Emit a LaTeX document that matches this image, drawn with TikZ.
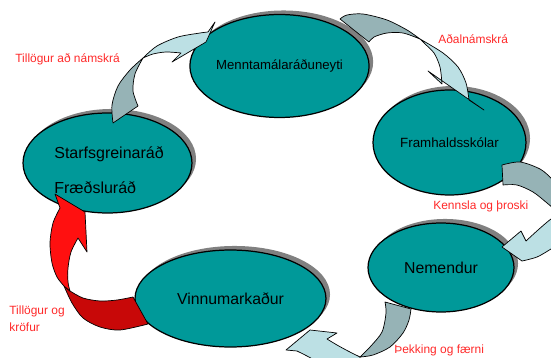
\documentclass[tikz,border=0pt]{standalone}
\usepackage{fontspec}
\setmainfont{Liberation Sans}
\usetikzlibrary{shapes.geometric,shadows}

\definecolor{graenn}{RGB}{0,153,153}
\definecolor{ljosblar}{RGB}{188,224,228}
\definecolor{dokkblar}{RGB}{150,179,182}
\definecolor{rautt}{RGB}{255,16,16}
\definecolor{dokkrautt}{RGB}{200,8,8}
\definecolor{textarautt}{RGB}{255,40,40}

\tikzset{
  hringur/.style={ellipse, draw=black, line width=0.7pt, fill=graenn, inner sep=0pt,
    drop shadow={shadow xshift=2.3pt, shadow yshift=2.3pt, fill=black!50, opacity=1}},
  merki/.style={text=textarautt, font=\fontsize{6.8}{9.6}\selectfont, inner sep=0pt,
    anchor=west, align=left},
  ljos/.style={fill=ljosblar, draw=black, line width=0.4pt, line join=round},
  dokk/.style={fill=dokkblar, draw=black, line width=0.4pt, line join=round},
}

\begin{document}
\begin{tikzpicture}[x=0.02cm,y=-0.02cm]
\useasboundingbox (0,0) rectangle (551,358);
\clip (0,0) rectangle (551,358);

% hringirnir
\node[hringur, minimum width=3.38cm, minimum height=2.06cm, font=\fontsize{7.5}{9}\selectfont] (menn) at (279.5,66) {Menntamálaráðuneyti};
\node[hringur, minimum width=3.06cm, minimum height=2.10cm, font=\fontsize{7.6}{9}\selectfont] (framh) at (449.5,142.5) {Framhaldsskólar};
\node[hringur, minimum width=2.92cm, minimum height=1.78cm, font=\fontsize{9}{11}\selectfont] (nem) at (441,267.5) {Nemendur};
\node[hringur, minimum width=3.82cm, minimum height=1.94cm, font=\fontsize{9}{11}\selectfont] (vinnu) at (230.5,298.5) {Vinnumarkaður};
\node[hringur, minimum width=3.38cm, minimum height=2.00cm] (starf) at (107.5,163) {};
\node[inner sep=0pt, anchor=west, align=left, font=\fontsize{9.1}{19.8}\selectfont] (starftxt) at (54,170) {Starfsgreinaráð\\Fræðsluráð};

% starfsgreinarad -> raduneyti
\filldraw[dokk] (113,123) -- (138,106) -- plot[smooth] coordinates {(138,106) (133,91) (135,74) (143,58)}
  -- plot[smooth] coordinates {(143,58) (130,70) (118,86) (112,105) (113,123)} -- cycle;
\filldraw[ljos] (143,58) -- plot[smooth] coordinates {(143,58) (157,46) (178,37) (200,33) (208,32)}
  -- (215,22) -- (206,42) -- (172,62) -- (181,53)
  -- plot[smooth] coordinates {(181,53) (166,52) (153,54) (143,58)} -- cycle;

% raduneyti -> framhaldsskolar
\filldraw[dokk] (340,19) -- (369,42) -- plot[smooth] coordinates {(369,42) (374,37) (387,33) (403,33) (420,39)}
  -- plot[smooth] coordinates {(420,39) (407,30) (387,20) (363,14) (347,15) (340,19)} -- cycle;
\filldraw[ljos] (420,39) -- plot[smooth] coordinates {(420,39) (443,53) (458,67) (466,83) (469,100)}
  -- (484,110) -- (428,71) -- (442,84)
  -- plot[smooth] coordinates {(442,84) (440,67) (434,53) (424,43) (420,39)} -- cycle;

% framhaldsskolar -> nemendur
\filldraw[dokk] (502,165) -- (503,185) -- plot[smooth] coordinates {(503,185) (517,185) (533,192) (547,203) (560,214)}
  -- (562,190) -- plot[smooth] coordinates {(562,190) (552,179) (540,169) (520,162) (502,165)} -- cycle;
\filldraw[ljos] (562,213) -- plot[smooth] coordinates {(562,213) (551,219) (538,230) (526,241)}
  -- (521,231) -- (502,247) -- (522,261)
  -- plot[smooth] coordinates {(522,261) (537,257) (551,249) (562,242)} -- cycle;

% nemendur -> vinnumarkadur
\filldraw[dokk] (385,302) -- (411,309) -- plot[smooth] coordinates {(411,309) (409,320) (403,333) (390,347) (373,355) (360,357)}
  -- plot[smooth] coordinates {(360,357) (370,347) (382,332) (386,313) (385,302)} -- cycle;
\filldraw[ljos] (360,357) -- plot[smooth] coordinates {(360,357) (348,351) (337,345) (327,339)}
  -- (337,333) -- (310,330) -- (286,350) -- (297,351)
  -- plot[smooth] coordinates {(297,351) (307,356) (318,362)} -- (360,366) -- cycle;

% vinnumarkadur -> starfsgreinarad
\filldraw[fill=dokkrautt, line width=0.4pt, line join=round] (64,286)
  -- plot[smooth] coordinates {(64,286) (72,303) (83,318) (100,327) (120,330) (148,324)}
  -- (133,297) -- plot[smooth] coordinates {(133,297) (117,300) (100,301) (83,298) (70,291)} -- cycle;
\filldraw[fill=rautt, line width=0.4pt, line join=round] (64,286)
  -- plot[smooth] coordinates {(64,286) (57,277) (52,263) (50,243) (53,223) (60,208)}
  -- (55,194) -- (85,212) -- (87,252) -- (78,238)
  -- plot[smooth] coordinates {(78,238) (71,252) (68,268) (68,282) (70,291)} -- cycle;

% textar
\node[merki] (l1) at (15,59) {Tillögur að námskrá};
\node[merki] (l2) at (438,39) {Aðalnámskrá};
\node[merki] (l3) at (433,206) {Kennsla og þroski};
\node[merki] (l4) at (394,350) {Þekking og færni};
\node[merki] (l5) at (9,318.5) {Tillögur og\\kröfur};

\end{tikzpicture}
\end{document}
